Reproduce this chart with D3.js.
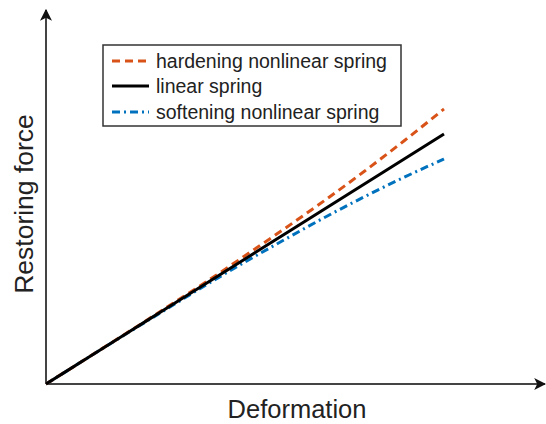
<!DOCTYPE html>
<html>
<head>
<meta charset="utf-8">
<script src="https://cdn.jsdelivr.net/npm/d3@7"></script>
<style>
  html, body { margin: 0; padding: 0; background: #fff; }
  svg { display: block; font-family: "Liberation Sans", Arial, sans-serif; }
</style>
</head>
<body>
<svg id="chart" width="546" height="424"></svg>
<script>
// Deformation samples (normalised) and restoring force for each spring model
const deformation = [0, 0.1, 0.2, 0.3, 0.4, 0.5, 0.6, 0.7, 0.8, 0.9, 1.0];
const hardeningForce = [0, 0.100, 0.201, 0.303, 0.406, 0.513, 0.622, 0.734, 0.851, 0.973, 1.100];
const linearForce = [0, 0.1, 0.2, 0.3, 0.4, 0.5, 0.6, 0.7, 0.8, 0.9, 1.0];
const softeningForce = [0, 0.100, 0.199, 0.297, 0.394, 0.488, 0.578, 0.666, 0.749, 0.827, 0.900];

const seriesNames = ["hardening nonlinear spring", "linear spring", "softening nonlinear spring"];
const seriesColors = ["#D95319", "#000000", "#0072BD"];
const seriesDashes = ["8,5", null, "8,4,2,4"];
const seriesValues = [hardeningForce, linearForce, softeningForce];

const xLabel = "Deformation";
const yLabel = "Restoring force";

const svg = d3.select("#chart");

const x = d3.scaleLinear().domain([0, 1]).range([46, 444]);
const y = d3.scaleLinear().domain([0, 1]).range([384, 134]);

// arrowhead marker for the axes
const defs = svg.append("defs");
defs.append("marker")
  .attr("id", "arrow")
  .attr("viewBox", "0 0 10 10")
  .attr("refX", 9).attr("refY", 5)
  .attr("markerUnits", "userSpaceOnUse")
  .attr("markerWidth", 12).attr("markerHeight", 12)
  .attr("orient", "auto")
  .append("path")
  .attr("d", "M0,0 L10,5 L0,10 L2.5,5 Z")
  .attr("fill", "#111");

// axes: extend beyond the data range to the arrow tips
const x0 = x(0), y0 = y(0);
svg.append("line")
  .attr("x1", x0).attr("y1", y0)
  .attr("x2", 545).attr("y2", y0)
  .attr("stroke", "#444").attr("stroke-width", 2)
  .attr("marker-end", "url(#arrow)");
svg.append("line")
  .attr("x1", x0).attr("y1", y0)
  .attr("x2", x0).attr("y2", 10)
  .attr("stroke", "#444").attr("stroke-width", 2)
  .attr("marker-end", "url(#arrow)");

// curves
const line = d3.line()
  .x((d, i) => x(deformation[i]))
  .y(d => y(d))
  .curve(d3.curveMonotoneX);

// draw in order so the linear line sits between the two nonlinear ones
[2, 0, 1].forEach(k => {
  svg.append("path")
    .datum(seriesValues[k])
    .attr("d", line)
    .attr("fill", "none")
    .attr("stroke", seriesColors[k])
    .attr("stroke-width", 3)
    .attr("stroke-dasharray", seriesDashes[k]);
});

// legend
const legend = svg.append("g");
legend.append("rect")
  .attr("x", 103).attr("y", 45)
  .attr("width", 298).attr("height", 81)
  .attr("fill", "#fff")
  .attr("stroke", "#333").attr("stroke-width", 1.5);

const rowY = [61, 86, 112];
seriesNames.forEach((name, k) => {
  legend.append("line")
    .attr("x1", 112).attr("x2", 149)
    .attr("y1", rowY[k]).attr("y2", rowY[k])
    .attr("stroke", seriesColors[k])
    .attr("stroke-width", 3)
    .attr("stroke-dasharray", seriesDashes[k]);
  legend.append("text")
    .attr("x", 156).attr("y", rowY[k] + 7)
    .attr("font-size", 19.5)
    .attr("fill", "#222")
    .text(name);
});

// axis titles
svg.append("text")
  .attr("x", 297).attr("y", 418)
  .attr("text-anchor", "middle")
  .attr("font-size", 25.5)
  .attr("fill", "#222")
  .text(xLabel);

svg.append("text")
  .attr("transform", "translate(33,204) rotate(-90)")
  .attr("text-anchor", "middle")
  .attr("font-size", 26.5)
  .attr("fill", "#222")
  .text(yLabel);
</script>
</body>
</html>
